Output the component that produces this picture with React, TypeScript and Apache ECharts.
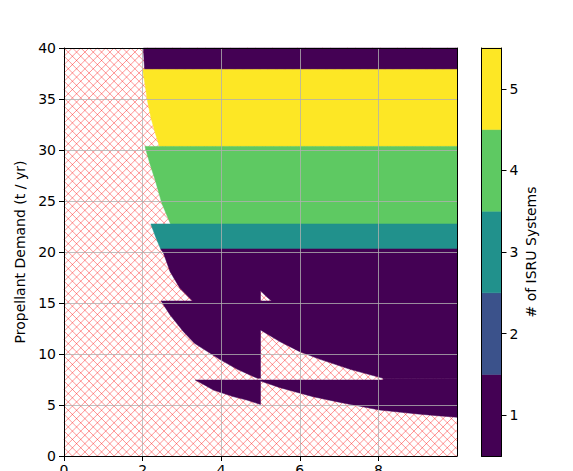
import React, { useEffect, useRef } from "react";
import * as echarts from "echarts";

type Pt = [number, number];

// viridis colours for 1..5 ISRU systems
const levelColors = ["#440154", "#3b528b", "#21918c", "#5ec962", "#fde725"];
const colorbarLevels = [1, 2, 3, 4, 5];
const xTickValues = [0, 2, 4, 6, 8];

// Region boundaries: [x, demand t/yr]
const bandTopPurple: Pt[] = [[2.02, 40], [10, 40], [10, 37.9], [2.05, 37.9]];
const bandYellow: Pt[] = [[2.0, 37.9], [10, 37.9], [10, 30.35], [2.43, 30.35], [2.32, 31.7], [2.21, 33.2], [2.12, 34.9], [2.06, 36.5]];
const bandGreen: Pt[] = [[2.06, 30.35], [10, 30.35], [10, 22.75], [2.71, 22.75], [2.49, 24.77], [2.32, 27.06], [2.19, 28.6]];
const bandTeal: Pt[] = [[2.21, 22.75], [10, 22.75], [10, 20.3], [2.46, 20.3], [2.33, 21.5]];
const bandPurpleUpper: Pt[] = [[2.46, 20.3], [10, 20.3], [10, 15.2], [5.28, 15.2], [5.13, 15.7], [5.0, 16.2], [5.0, 15.2], [3.27, 15.2], [2.95, 16.44], [2.7, 18.07], [2.53, 19.9]];
const bandPurpleMiddle: Pt[] = [[2.47, 15.2], [10, 15.2], [10, 7.62], [8.12, 7.62], [7.28, 8.5], [6.5, 9.5], [6.0, 10.23], [5.5, 11.2], [5.0, 12.35], [5.0, 7.62], [4.92, 7.62], [4.41, 8.5], [3.95, 9.5], [3.32, 11.05], [3.04, 12.19], [2.7, 13.82]];
const bandPurpleWedge: Pt[] = [[3.34, 7.45], [5.0, 7.45], [5.0, 5.05], [4.65, 5.49], [4.3, 5.83], [3.8, 6.47], [3.55, 7.02]];
const bandPurpleLower: Pt[] = [[5.0, 7.45], [8.12, 7.45], [8.12, 7.62], [10, 7.62], [10, 3.8], [9.5, 3.95], [9.0, 4.12], [8.03, 4.51], [7.0, 5.28], [6.34, 5.81], [5.5, 6.7], [5.0, 7.35]];

const regionShapes: Pt[][] = [bandTopPurple, bandYellow, bandGreen, bandTeal, bandPurpleUpper, bandPurpleMiddle, bandPurpleWedge, bandPurpleLower];
const regionLevels = [1, 5, 4, 3, 1, 1, 1, 1];

const FONT = "DejaVu Sans";

export default function App() {
  const ref = useRef<HTMLDivElement>(null);
  useEffect(() => {
    if (!ref.current) return;
    const chart = echarts.init(ref.current, null, { renderer: "svg" });
    const hidden = { show: false };
    const option: any = {
      animation: false,
      backgroundColor: "#ffffff",
      textStyle: { fontFamily: FONT },
      grid: [
        { left: 64, top: 48, width: 393, height: 408, outerBoundsMode: "none", containLabel: false },
        { left: 481.5, top: 48, width: 20, height: 408, outerBoundsMode: "none", containLabel: false },
      ],
      xAxis: [
        {
          type: "value", gridIndex: 0, min: 0, max: 10, interval: 2, position: "bottom", z: 5,
          axisLine: { show: true, onZero: false, lineStyle: { color: "#000", width: 1 } },
          axisTick: { show: true, length: 5, lineStyle: { color: "#000" }, customValues: xTickValues },
          axisLabel: { color: "#000", fontSize: 14, fontFamily: FONT, margin: 7, customValues: xTickValues },
          splitLine: { show: true, lineStyle: { color: "#b0b0b0", width: 0.8 } },
        },
        {
          type: "value", gridIndex: 0, min: 0, max: 10, position: "top", z: 5,
          axisLine: { show: true, onZero: false, lineStyle: { color: "#000", width: 1 } },
          axisTick: hidden, axisLabel: hidden, splitLine: hidden,
        },
        {
          type: "value", gridIndex: 1, min: 0, max: 1, position: "bottom", z: 5,
          axisLine: { show: true, onZero: false, lineStyle: { color: "#000", width: 1 } },
          axisTick: hidden, axisLabel: hidden, splitLine: hidden,
        },
        {
          type: "value", gridIndex: 1, min: 0, max: 1, position: "top", z: 5,
          axisLine: { show: true, onZero: false, lineStyle: { color: "#000", width: 1 } },
          axisTick: hidden, axisLabel: hidden, splitLine: hidden,
        },
      ],
      yAxis: [
        {
          type: "value", gridIndex: 0, min: 0, max: 40, interval: 5, position: "left", z: 5,
          name: "Propellant Demand (t / yr)", nameLocation: "middle", nameGap: 36,
          nameTextStyle: { color: "#000", fontSize: 14, fontFamily: FONT },
          axisLine: { show: true, onZero: false, lineStyle: { color: "#000", width: 1 } },
          axisTick: { show: true, length: 5, lineStyle: { color: "#000" } },
          axisLabel: { color: "#000", fontSize: 14, fontFamily: FONT, margin: 8 },
          splitLine: { show: true, lineStyle: { color: "#b0b0b0", width: 0.8 } },
        },
        {
          type: "value", gridIndex: 0, min: 0, max: 40, position: "right", z: 5,
          axisLine: { show: true, onZero: false, lineStyle: { color: "#000", width: 1 } },
          axisTick: hidden, axisLabel: hidden, splitLine: hidden,
        },
        {
          type: "value", gridIndex: 1, min: 0.5, max: 5.5, position: "right", z: 5,
          name: "# of ISRU Systems", nameLocation: "middle", nameGap: 22,
          nameTextStyle: { color: "#000", fontSize: 14, fontFamily: FONT },
          axisLine: { show: true, onZero: false, lineStyle: { color: "#000", width: 1 } },
          axisTick: { show: true, length: 5, lineStyle: { color: "#000" }, customValues: colorbarLevels },
          axisLabel: { color: "#000", fontSize: 14, fontFamily: FONT, margin: 8, customValues: colorbarLevels },
          splitLine: hidden,
        },
        {
          type: "value", gridIndex: 1, min: 0.5, max: 5.5, position: "left", z: 5,
          axisLine: { show: true, onZero: false, lineStyle: { color: "#000", width: 1 } },
          axisTick: hidden, axisLabel: hidden, splitLine: hidden,
        },
      ],
      series: [
        {
          type: "custom",
          name: "infeasible",
          xAxisIndex: 0,
          yAxisIndex: 0,
          z: 1,
          silent: true,
          data: [[0, 0]],
          renderItem: (params: any) => {
            const cs = params.coordSys;
            const L = cs.x, T = cs.y, R = cs.x + cs.width, B = cs.y + cs.height;
            const step = 8.33;
            const style = { stroke: "rgba(255,0,0,0.42)", lineWidth: 1, fill: "none" };
            const children: any[] = [];
            for (let s = L + T; s <= R + B; s += step) {
              const x1 = Math.max(L, s - B), x2 = Math.min(R, s - T);
              if (x2 > x1) children.push({ type: "line", shape: { x1, y1: s - x1, x2, y2: s - x2 }, style });
            }
            for (let d = L - B; d <= R - T; d += step) {
              const x1 = Math.max(L, d + T), x2 = Math.min(R, d + B);
              if (x2 > x1) children.push({ type: "line", shape: { x1, y1: x1 - d, x2, y2: x2 - d }, style });
            }
            return { type: "group", children };
          },
        },
        {
          type: "custom",
          name: "regions",
          xAxisIndex: 0,
          yAxisIndex: 0,
          z: 2,
          data: regionLevels.map((lv, i) => [regionShapes[i][0][0], regionShapes[i][0][1], lv]),
          renderItem: (params: any, api: any) => {
            const i = params.dataIndex;
            const pts = regionShapes[i].map((p) => api.coord(p));
            const c = levelColors[regionLevels[i] - 1];
            return { type: "polygon", shape: { points: pts }, style: { fill: c, stroke: c, lineWidth: 0.5 } };
          },
        },
        {
          type: "custom",
          name: "colorbar",
          xAxisIndex: 2,
          yAxisIndex: 2,
          z: 2,
          data: colorbarLevels.map((v) => [0, v]),
          renderItem: (params: any, api: any) => {
            const v = colorbarLevels[params.dataIndex];
            const p0 = api.coord([0, v + 0.5]);
            const p1 = api.coord([1, v - 0.5]);
            const c = levelColors[v - 1];
            return {
              type: "rect",
              shape: { x: p0[0], y: p0[1], width: p1[0] - p0[0], height: p1[1] - p0[1] },
              style: { fill: c, stroke: c, lineWidth: 0.5 },
            };
          },
        },
      ],
    };
    chart.setOption(option);
    return () => chart.dispose();
  }, []);
  return <div ref={ref} style={{ position: "absolute", left: 0, top: 0, width: 573, height: 471 }} />;
}
